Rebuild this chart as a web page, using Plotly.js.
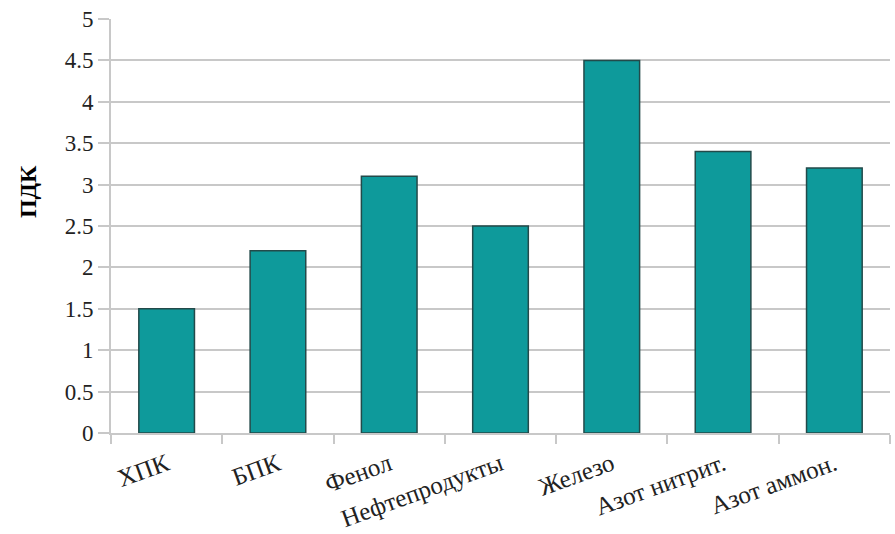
<!DOCTYPE html>
<html><head><meta charset="utf-8">
<script src="https://cdn.plot.ly/plotly-3.0.1.min.js"></script>
<style>html,body{margin:0;padding:0;background:#fff}</style>
</head><body>
<div id="chart" style="width:895px;height:534px"></div>
<script>
const categories = ["ХПК", "БПК", "Фенол", "Нефтепродукты", "Железо", "Азот нитрит.", "Азот аммон."];
const values = [1.5, 2.2, 3.1, 2.5, 4.5, 3.4, 3.2];
const yTitle = "ПДК";

const trace = {
  type: 'bar',
  x: categories,
  y: values,
  marker: {color: '#0e9a9b', line: {color: '#234a4a', width: 1.5}},
  hoverinfo: 'x+y'
};
const fontFam = 'Liberation Serif, DejaVu Serif, serif';
const layout = {
  width: 895, height: 534,
  margin: {l: 111, r: 5, t: 19, b: 101},
  paper_bgcolor: '#fff', plot_bgcolor: '#fff',
  bargap: 0.5,
  showlegend: false,
  font: {family: fontFam, size: 23, color: '#222'},
  xaxis: {
    type: 'category',
    tickangle: -20,
    ticks: 'outside', tickson: 'boundaries', ticklen: 9, tickwidth: 2, tickcolor: '#c8c8c8',
    showline: true, linecolor: '#c8c8c8', linewidth: 2,
    showgrid: false,
    ticklabelstandoff: 5,
    tickfont: {family: fontFam, size: 25, color: '#222'}
  },
  yaxis: {
    range: [0, 5], dtick: 0.5, tick0: 0,
    ticks: 'outside', ticklen: 11, tickwidth: 2, tickcolor: '#c8c8c8',
    showline: true, linecolor: '#c8c8c8', linewidth: 2,
    gridcolor: '#c8c8c8', gridwidth: 2,
    zeroline: false,
    tickfont: {family: fontFam, size: 23, color: '#222'}
  },
  annotations: [{
    text: '<b>' + yTitle + '</b>', textangle: -90,
    xref: 'paper', yref: 'paper', x: -0.1065, y: 0.582,
    xanchor: 'center', yanchor: 'middle', showarrow: false,
    font: {family: fontFam, size: 24, color: '#000'}
  }]
};
Plotly.newPlot('chart', [trace], layout, {displayModeBar: false, staticPlot: true});
</script>
</body></html>
